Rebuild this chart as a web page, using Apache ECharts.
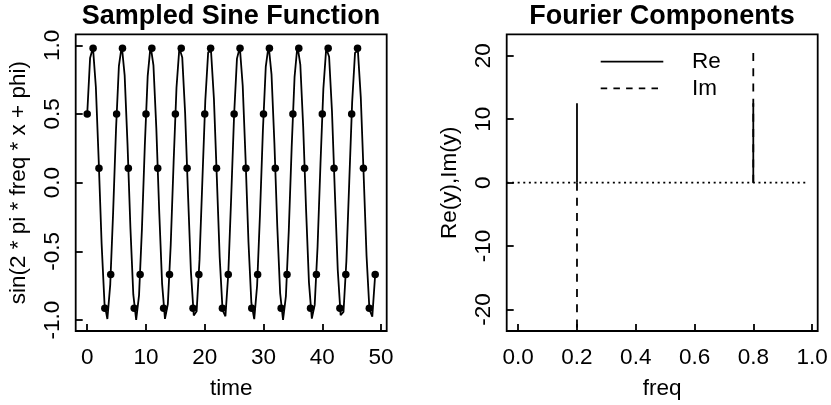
<!DOCTYPE html>
<html>
<head>
<meta charset="utf-8">
<script src="https://cdn.jsdelivr.net/npm/echarts@6/dist/echarts.min.js"></script>
<style>
  html, body { margin: 0; padding: 0; background: #fff; }
  #chart { width: 831px; height: 405px; }
</style>
</head>
<body>
<div id="chart"></div>
<script>
// Continuous curve sin(2*pi*freq*x + phi), evaluated on 101 points over 0..49
const curveStep = 0.49;
const curveValues = [
  0.5, 0.9083, 0.9831, 0.6967, 0.1544, -0.4446, -0.8803, -0.9926, -0.7403, -0.2161,
  0.3875, 0.8488, 0.9983, 0.7810, 0.2770, -0.3289, -0.8138, -1.0000, -0.8187, -0.3368,
  0.2689, 0.7760, 0.9978, 0.8532, 0.3952, -0.2079, -0.7346, -0.9916, -0.8843, -0.4521,
  0.1461, 0.6905, 0.9815, 0.9118, 0.5073, -0.0837, -0.6438, -0.9675, -0.9358, -0.5604,
  0.0209, 0.5945, 0.9498, 0.9561, 0.6112, 0.0419, -0.5429, -0.9283, -0.9726, -0.6598,
  -0.1045, 0.4891, 0.9030, 0.9853, 0.7056, 0.1668, -0.4333, -0.8743, -0.9941, -0.7489,
  -0.2284, 0.3759, 0.8421, 0.9989, 0.7888, 0.2890, -0.3170, -0.8064, -0.9999, -0.8258,
  -0.3486, 0.2568, 0.7679, 0.9968, 0.8597, 0.4067, -0.1956, -0.7260, -0.9899, -0.8901,
  -0.4633, 0.1336, 0.6814, 0.9790, 0.9169, 0.5180, -0.0711, -0.6341, -0.9643, -0.9402,
  -0.5707, 0.0084, 0.5843, 0.9457, 0.9597, 0.6211, 0.0544, -0.5323, -0.9235, -0.9755,
  -0.6691
];

// Samples at integer times 0..49
const sampleValues = [
  0.5, 0.978, 0.105, -0.914, -0.669, 0.5, 0.978, 0.105, -0.914, -0.669,
  0.5, 0.978, 0.105, -0.914, -0.669, 0.5, 0.978, 0.105, -0.914, -0.669,
  0.5, 0.978, 0.105, -0.914, -0.669, 0.5, 0.978, 0.105, -0.914, -0.669,
  0.5, 0.978, 0.105, -0.914, -0.669, 0.5, 0.978, 0.105, -0.914, -0.669,
  0.5, 0.978, 0.105, -0.914, -0.669, 0.5, 0.978, 0.105, -0.914, -0.669
];

// Fourier components, one per frequency k/50
const reValues = [
  0, 0, 0, 0, 0, 0, 0, 0, 0, 0,
  12.5, 0, 0, 0, 0, 0, 0, 0, 0, 0,
  0, 0, 0, 0, 0, 0, 0, 0, 0, 0,
  0, 0, 0, 0, 0, 0, 0, 0, 0, 0,
  12.5, 0, 0, 0, 0, 0, 0, 0, 0, 0
];
const imValues = [
  0, 0, 0, 0, 0, 0, 0, 0, 0, 0,
  -23.4, 0, 0, 0, 0, 0, 0, 0, 0, 0,
  0, 0, 0, 0, 0, 0, 0, 0, 0, 0,
  0, 0, 0, 0, 0, 0, 0, 0, 0, 0,
  21.5, 0, 0, 0, 0, 0, 0, 0, 0, 0
];
const zeroLineSpan = [-0.04, 0.985];

// Tick marks
const timeTicks = [0, 10, 20, 30, 40, 50];
const sineTicks = [-1.0, -0.5, 0.0, 0.5, 1.0];
const freqTicks = [0.0, 0.2, 0.4, 0.6, 0.8, 1.0];
const fourierTicks = [-20, -10, 0, 10, 20];

const FONT = "'Liberation Sans', Arial, Helvetica, sans-serif";
const LW = 1.8;

const curveData = curveValues.map((v, i) => [i * curveStep, v]);
const sampleData = sampleValues.map((v, i) => [i, v]);
const freq = reValues.map((_, k) => k / reValues.length);

// "type h" drawing: a vertical segment from 0 to each value
function spikes(values) {
  const out = [];
  values.forEach((v, i) => {
    out.push([freq[i], 0], [freq[i], v], [freq[i], '-']);
  });
  return out;
}

function axisCommon(ticks, fmt, margin, rotate) {
  return {
    type: 'value',
    splitLine: { show: false },
    axisLine: { show: false, onZero: false },
    axisTick: {
      show: true, inside: true, length: 7,
      lineStyle: { color: '#000', width: LW },
      customValues: ticks
    },
    axisLabel: {
      customValues: ticks,
      color: '#000', fontFamily: FONT, fontSize: 22.5,
      margin: margin, rotate: rotate,
      formatter: fmt
    },
    nameTextStyle: { color: '#000', fontFamily: FONT, fontSize: 22.5 }
  };
}

const chart = echarts.init(document.getElementById('chart'), null, { renderer: 'canvas' });

chart.setOption({
  animation: false,
  backgroundColor: '#fff',
  title: [
    {
      text: 'Sampled Sine Function', left: 231, top: 3, padding: 0, textAlign: 'center',
      textStyle: { fontFamily: FONT, fontWeight: 'bold', fontSize: 27, color: '#000', lineHeight: 28 }
    },
    {
      text: 'Fourier Components', left: 662, top: 3, padding: 0, textAlign: 'center',
      textStyle: { fontFamily: FONT, fontWeight: 'bold', fontSize: 27, color: '#000', lineHeight: 28 }
    }
  ],
  grid: [
    { left: 75.7, top: 34.3, width: 311, height: 298, show: true, borderColor: '#000', borderWidth: LW, containLabel: false },
    { left: 506.7, top: 34.3, width: 311, height: 297.4, show: true, borderColor: '#000', borderWidth: LW, containLabel: false }
  ],
  xAxis: [
    Object.assign(axisCommon(timeTicks, v => String(v), 15, 0), {
      gridIndex: 0, min: -1.96, max: 50.96,
      name: 'time', nameLocation: 'middle', nameGap: 46
    }),
    Object.assign(axisCommon(freqTicks, v => v.toFixed(1), 15, 0), {
      gridIndex: 1, min: -0.0392, max: 1.0192,
      name: 'freq', nameLocation: 'middle', nameGap: 46
    })
  ],
  yAxis: [
    Object.assign(axisCommon(sineTicks, v => v.toFixed(1), 11, 90), {
      gridIndex: 0, min: -1.08, max: 1.08,
      name: 'sin(2 * pi * freq * x + phi)', nameLocation: 'middle', nameGap: 45
    }),
    Object.assign(axisCommon(fourierTicks, v => String(v), 11, 90), {
      gridIndex: 1, min: -23.38, max: 23.38,
      name: 'Re(y),Im(y)', nameLocation: 'middle', nameGap: 45
    })
  ],
  series: [
    {
      type: 'line', xAxisIndex: 0, yAxisIndex: 0,
      data: curveData, symbol: 'none', silent: true,
      lineStyle: { color: '#000', width: LW }
    },
    {
      type: 'scatter', xAxisIndex: 0, yAxisIndex: 0,
      data: sampleData, symbol: 'circle', symbolSize: 7.5,
      itemStyle: { color: '#000', opacity: 1 }
    },
    {
      type: 'line', xAxisIndex: 1, yAxisIndex: 1,
      data: [[zeroLineSpan[0], 0], [zeroLineSpan[1], 0]],
      symbol: 'none',
      lineStyle: { color: '#000', width: LW, type: [2, 3.6] }
    },
    {
      name: 'Re', type: 'line', xAxisIndex: 1, yAxisIndex: 1,
      data: spikes(reValues), symbol: 'none', connectNulls: false,
      lineStyle: { color: '#000', width: LW }
    },
    {
      name: 'Im', type: 'line', xAxisIndex: 1, yAxisIndex: 1,
      data: spikes(imValues), symbol: 'none', connectNulls: false,
      lineStyle: { color: '#000', width: LW, type: [8, 7.2] }
    }
  ],
  graphic: [
    { type: 'line', shape: { x1: 600.7, y1: 61.7, x2: 663.3, y2: 61.7 },
      style: { stroke: '#000', lineWidth: LW } },
    { type: 'text', x: 692, y: 62,
      style: { text: 'Re', fill: '#000', font: '22.5px ' + FONT, textVerticalAlign: 'middle', verticalAlign: 'middle' } },
    { type: 'line', shape: { x1: 600.7, y1: 88.3, x2: 663.3, y2: 88.3 },
      style: { stroke: '#000', lineWidth: LW, lineDash: [6.5, 6.2] } },
    { type: 'text', x: 692, y: 88.5,
      style: { text: 'Im', fill: '#000', font: '22.5px ' + FONT, textVerticalAlign: 'middle', verticalAlign: 'middle' } }
  ]
});
</script>
</body>
</html>
